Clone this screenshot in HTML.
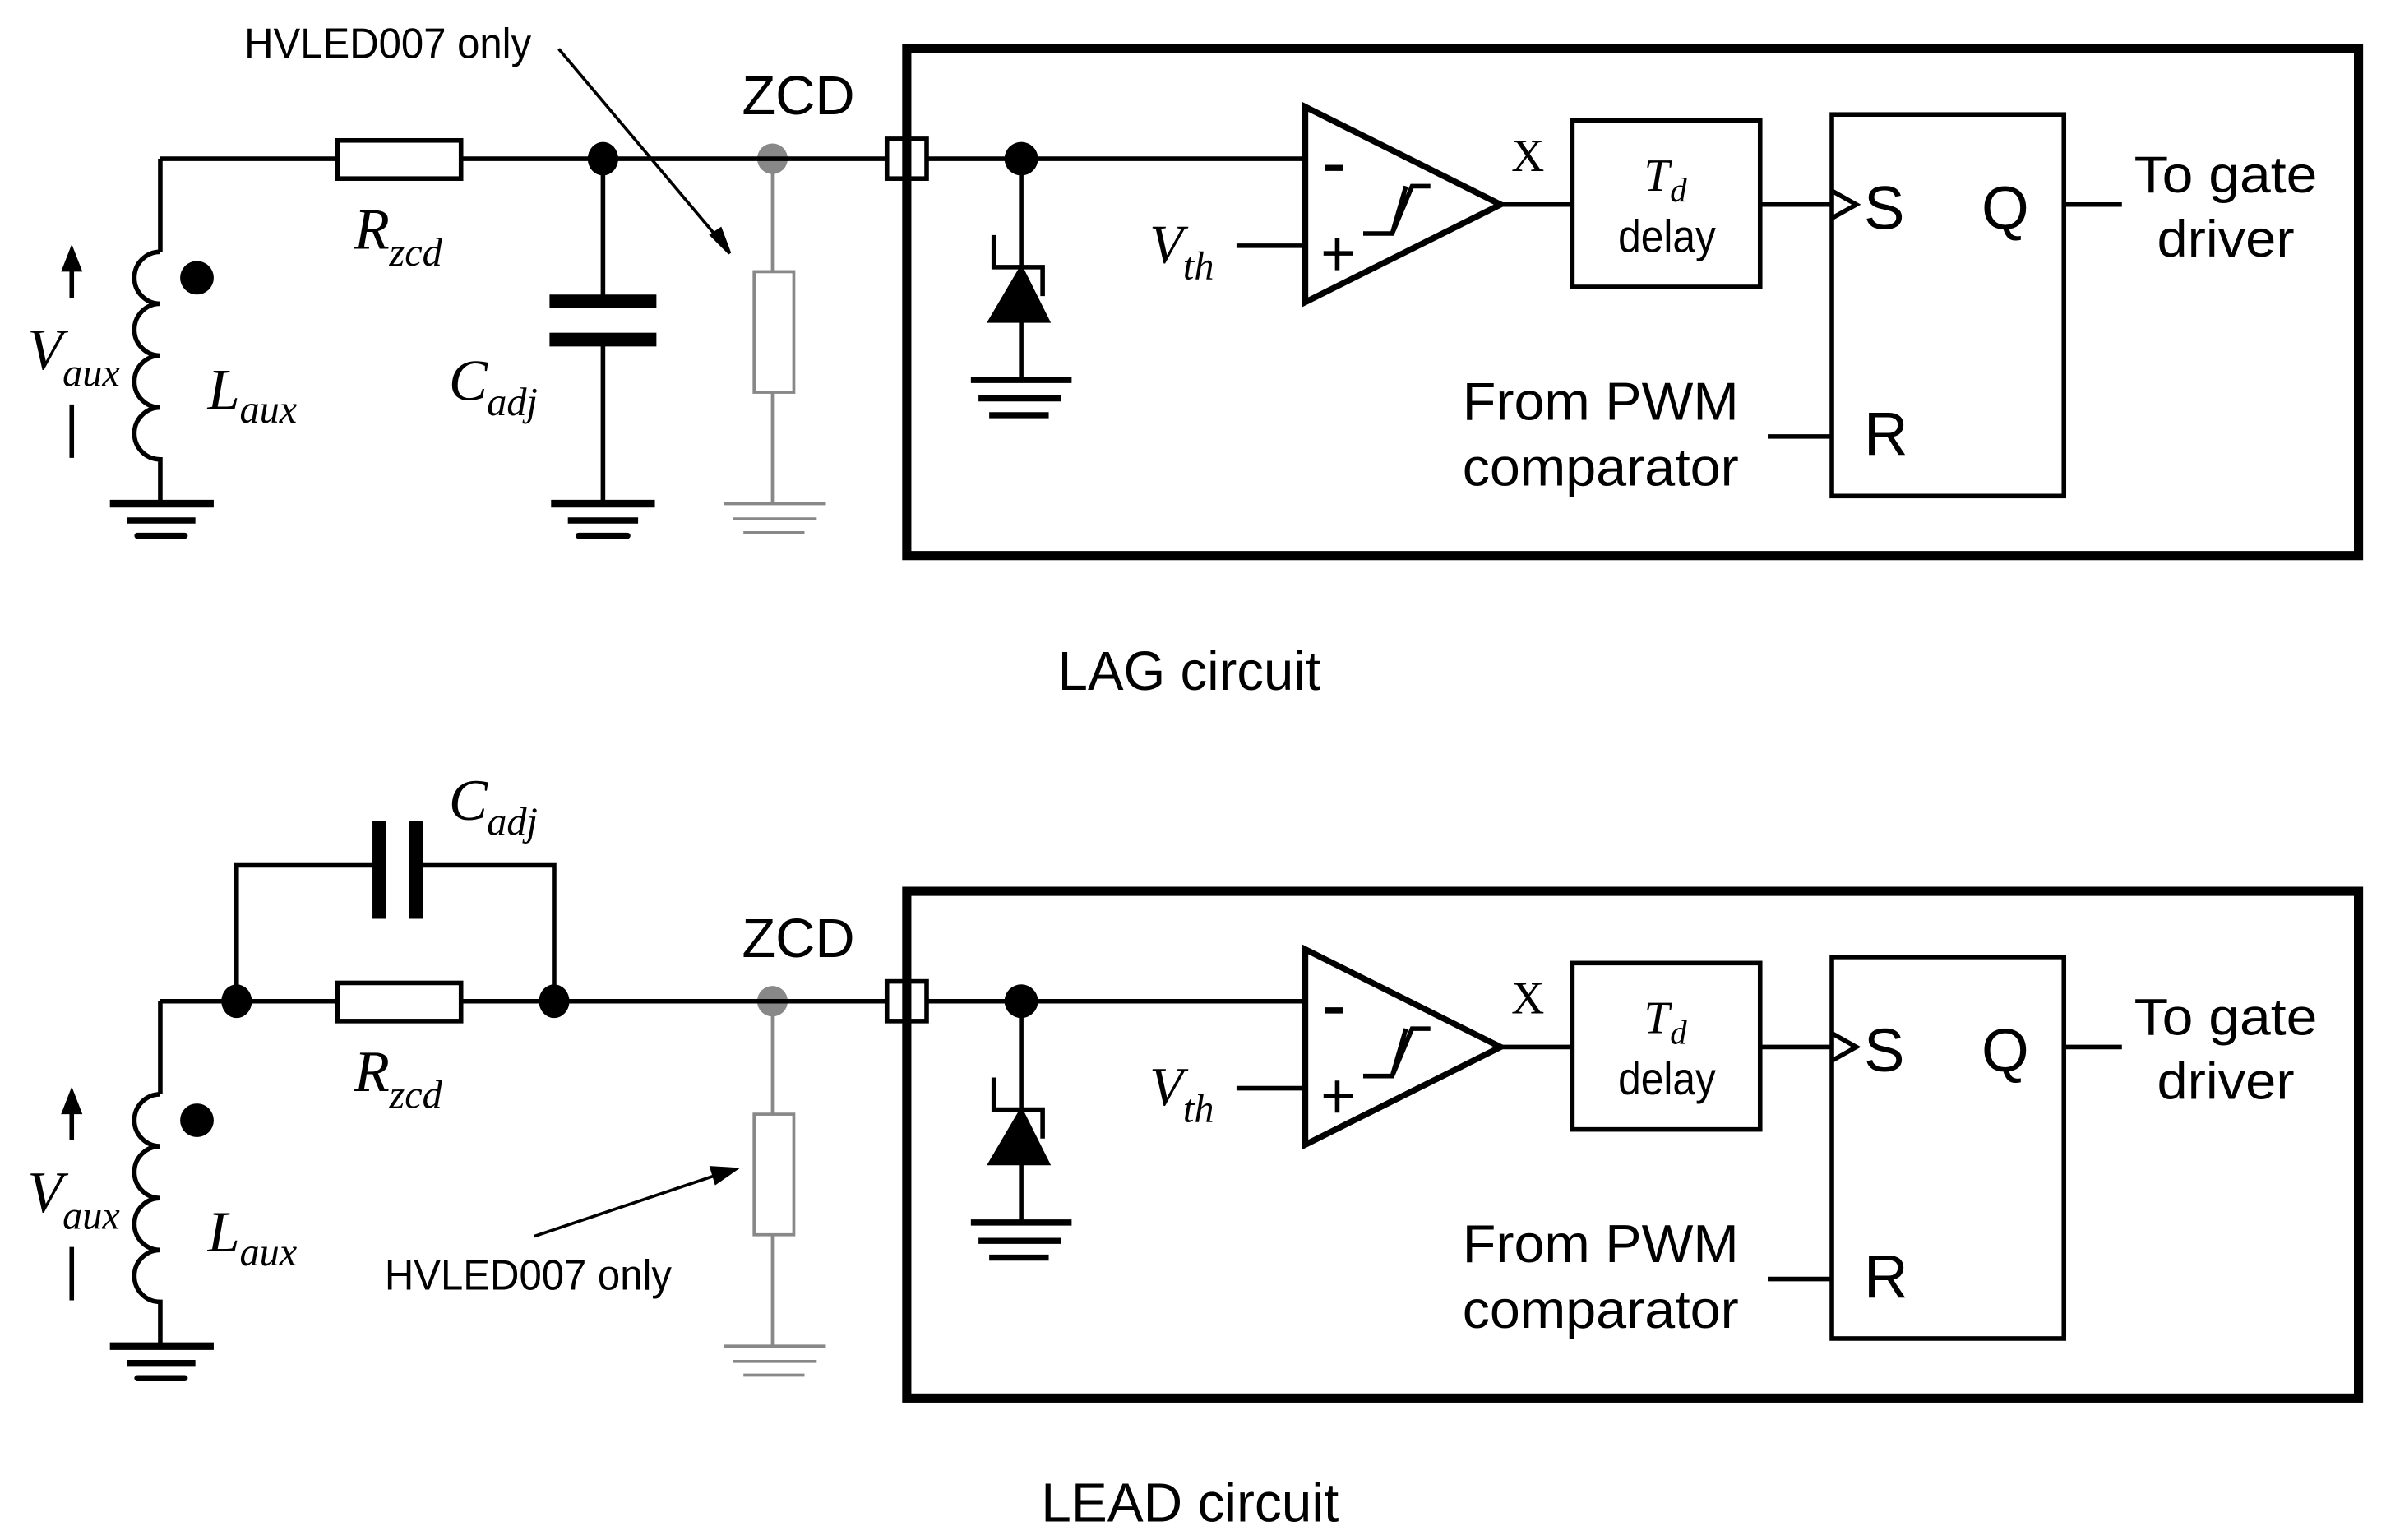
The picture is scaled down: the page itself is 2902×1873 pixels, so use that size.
<!DOCTYPE html>
<html><head><meta charset="utf-8"><style>
html,body{margin:0;padding:0;background:#fff;}
svg{display:block;}
.s{font-family:"Liberation Sans",Arial,sans-serif;}
.i{font-family:"Liberation Serif",serif;font-style:italic;}
</style></head><body>
<svg width="2902" height="1873" viewBox="0 0 1563 1009" preserveAspectRatio="none" xmlns="http://www.w3.org/2000/svg">
<defs>
<g id="common" stroke="#000" stroke-width="3" fill="none">
  <path d="M105,104 V165"/>
  <path d="M105,165 a17,17 0 0,0 0,34 a17,17 0 0,0 0,34 a17,17 0 0,0 0,34 a17,17 0 0,0 0,34 V330"/>
  <path d="M72,330 H140" stroke-width="5"/>
  <path d="M83,341 H128" stroke-width="4"/>
  <path d="M90,351 H121" stroke-width="4" stroke-linecap="round"/>
  <circle cx="129" cy="182" r="11" fill="#000" stroke="none"/>
  <path d="M47,195 V176"/>
  <path d="M40,178 L47,160 L54,178 Z" fill="#000" stroke="none"/>
  <path d="M47,265 V300"/>
  <rect x="221" y="92" width="81" height="25" fill="#fff"/>
  <g stroke="#888" stroke-width="2">
    <path d="M506,104 V178 M506,257 V330"/>
    <rect x="494" y="178" width="26" height="79" fill="#fff"/>
    <path d="M474,330 H541 M480,340 H535 M487,349 H527"/>
  </g>
  <circle cx="506" cy="104" r="10" fill="#888" stroke="none"/>
  <rect x="581" y="91" width="26" height="26" fill="#fff"/>
  <rect x="594" y="32" width="951" height="332" stroke-width="6"/>
  <path d="M607,104 H855"/>
  <circle cx="669" cy="104" r="11" fill="#000" stroke="none"/>
  <path d="M669,104 V249"/>
  <path d="M651,154 V175 H683 V194"/>
  <path d="M649,210 L669,176 L686,210 Z" fill="#000"/>
  <path d="M636,249 H702" stroke-width="4"/>
  <path d="M641,261 H695" stroke-width="4"/>
  <path d="M648,272 H687" stroke-width="4"/>
  <path d="M855,70 L855,198 L983,134 Z" stroke-width="4"/>
  <path d="M810,161 H855"/>
  <path d="M868,110 H880" stroke-width="4"/>
  <path d="M867,166 H886 M876,156 V177" stroke-width="3"/>
  <path d="M893,153 H912 L925,122 H937 M912,153 L921,122"/>
  <path d="M983,134 H1030"/>
  <rect x="1030" y="79" width="123" height="109"/>
  <path d="M1153,134 H1200"/>
  <rect x="1200" y="75" width="152" height="250"/>
  <path d="M1200,125 L1216,134 L1200,143"/>
  <path d="M1352,134 H1390"/>
  <path d="M1158,286 H1200"/>
</g>
<g id="ctext">
  <text class="i" x="18" y="242" font-size="38">V</text><text class="i" x="41" y="253" font-size="26">aux</text>
  <text class="i" x="136" y="268" font-size="38">L</text><text class="i" x="157" y="277" font-size="26">aux</text>
  <text class="s" x="486" y="75" font-size="36">ZCD</text>
  <text class="i" x="753" y="172" font-size="36">V</text><text class="i" x="775" y="183" font-size="26">th</text>
  <text x="990" y="112" font-family="Liberation Serif,serif" font-size="30">X</text>
  <text class="i" x="1077" y="125" font-size="30">T</text><text class="i" x="1094" y="132" font-size="22">d</text>
  <text class="s" x="1060" y="165" font-size="30" textLength="64" lengthAdjust="spacingAndGlyphs">delay</text>
  <text class="s" x="1221" y="150" font-size="40">S</text>
  <text class="s" x="1298" y="150" font-size="40">Q</text>
  <text class="s" x="1221" y="298" font-size="40">R</text>
  <text class="s" x="1398" y="126" font-size="34" textLength="120" lengthAdjust="spacingAndGlyphs">To gate</text>
  <text class="s" x="1413" y="168" font-size="34" textLength="90" lengthAdjust="spacingAndGlyphs">driver</text>
  <text class="s" x="958" y="275" font-size="35" textLength="181" lengthAdjust="spacingAndGlyphs">From PWM</text>
  <text class="s" x="958" y="318" font-size="35" textLength="181" lengthAdjust="spacingAndGlyphs">comparator</text>
</g>
</defs>

<use href="#common"/>
<use href="#ctext"/>
<g stroke="#000" stroke-width="3" fill="none">
  <path d="M105,104 H221 M302,104 H506 M506,104 H581"/>
  <ellipse cx="395" cy="104" rx="10" ry="11" fill="#000" stroke="none"/>
  <path d="M395,104 V197 M395,222 V330"/>
  <rect x="360" y="193" width="70" height="9" fill="#000" stroke="none"/>
  <rect x="360" y="218" width="70" height="9" fill="#000" stroke="none"/>
  <path d="M361,330 H429" stroke-width="5"/>
  <path d="M372,341 H418" stroke-width="4"/>
  <path d="M379,351 H411" stroke-width="4" stroke-linecap="round"/>
  <path d="M366,32 L472,158" stroke-width="2"/>
  <path d="M466,154 L478,166 L472,150 Z" fill="#000" stroke-width="2"/>
</g>
<text class="i" x="232" y="163" font-size="38">R</text><text class="i" x="255" y="174" font-size="26">zcd</text>
<text class="i" x="294" y="262" font-size="38">C</text><text class="i" x="319" y="272" font-size="26">adj</text>
<text class="s" x="160" y="38" font-size="28" textLength="188" lengthAdjust="spacingAndGlyphs">HVLED007 only</text>
<text class="s" x="693" y="452" font-size="36" textLength="172" lengthAdjust="spacingAndGlyphs">LAG circuit</text>

<g transform="translate(0,552)">
  <use href="#common"/>
  <use href="#ctext"/>
  <g stroke="#000" stroke-width="3" fill="none">
    <path d="M105,104 H221 M302,104 H581"/>
    <ellipse cx="155" cy="104" rx="10" ry="11" fill="#000" stroke="none"/>
    <ellipse cx="363" cy="104" rx="10" ry="11" fill="#000" stroke="none"/>
    <path d="M155,104 V15 H248 M277,15 H363 V104"/>
    <rect x="244" y="-14" width="9" height="64" fill="#000" stroke="none"/>
    <rect x="268" y="-14" width="9" height="64" fill="#000" stroke="none"/>
    <path d="M350,258 L472,217" stroke-width="2"/>
    <path d="M466,213 L482,214 L469,223 Z" fill="#000" stroke-width="2"/>
  </g>
  <text class="i" x="232" y="163" font-size="38">R</text><text class="i" x="255" y="174" font-size="26">zcd</text>
  <text class="i" x="294" y="-15" font-size="38">C</text><text class="i" x="319" y="-5" font-size="26">adj</text>
  <text class="s" x="252" y="293" font-size="28" textLength="188" lengthAdjust="spacingAndGlyphs">HVLED007 only</text>
</g>
<text class="s" x="682" y="997" font-size="36" textLength="195" lengthAdjust="spacingAndGlyphs">LEAD circuit</text>
</svg>
</body></html>
